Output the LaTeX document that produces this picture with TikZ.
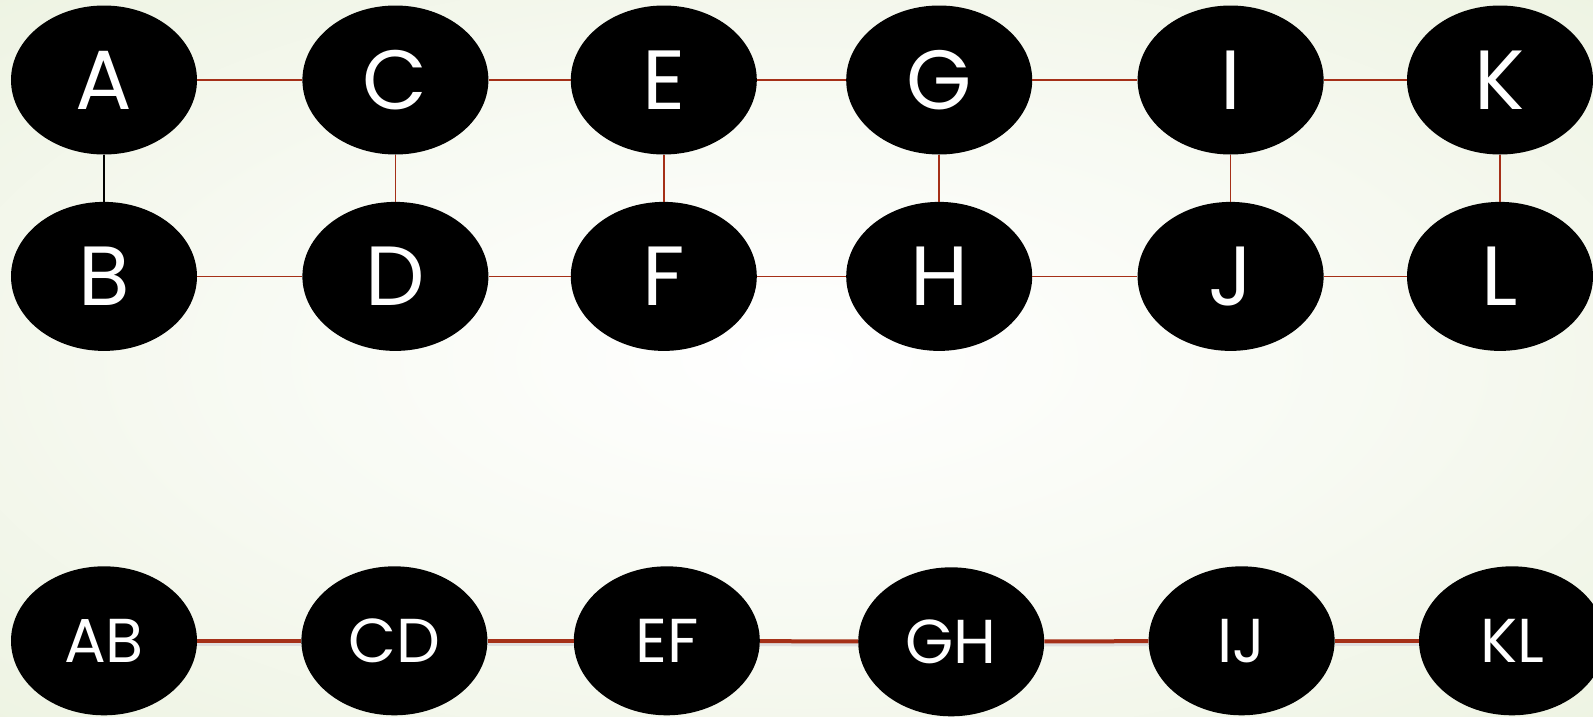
\documentclass[tikz,border=0pt]{standalone}
\usepackage{fontspec}
\setmainfont{Poppins}
\usepackage{tikz}
\usetikzlibrary{positioning,shapes.geometric}

\definecolor{edgered}{RGB}{165,48,24}
\definecolor{bggreen}{RGB}{230,238,214}
\pgfdeclareradialshading{bgglow}{\pgfpoint{0bp}{0bp}}{%
  color(0bp)=(white); color(18bp)=(white!70!bggreen);
  color(50bp)=(bggreen); color(70bp)=(bggreen)}

\begin{document}
\begin{tikzpicture}[
  x=1pt, y=1pt,
  vtx/.style={ellipse, fill=black, text=white, inner sep=0pt,
    minimum width=186pt, minimum height=149pt},
  bigvtx/.style={vtx, font=\fontsize{84}{90}\selectfont},
  pairvtx/.style={vtx, font=\fontsize{62}{70}\selectfont},
  link/.style={draw=edgered, line width=1.6pt},
  thicklink/.style={draw=edgered, line width=4pt,
    preaction={draw=black!12, line width=5pt, transform canvas={yshift=-2.5pt}}},
  node distance=47pt and 105pt
]
% background
\shade[shading=bgglow] (-104,80) rectangle (1489,-636);
\useasboundingbox (-104,80) rectangle (1489,-636);

% graph before merging
\node[bigvtx] (A) {A};
\node[bigvtx,below=of A] (B) {B};
\node[bigvtx,right=of A] (C) {C};
\node[bigvtx,below=of C] (D) {D};
\node[bigvtx,right=82pt of C] (E) {E};
\node[bigvtx,below=of E] (F) {F};
\node[bigvtx,right=89pt of E] (G) {G};
\node[bigvtx,below=of G] (H) {H};
\node[bigvtx,right=105pt of G] (I) {I};
\node[bigvtx,below=of I] (J) {J};
\node[bigvtx,right=83pt of I] (K) {K};
\node[bigvtx,below=of K] (L) {L};

\draw[line width=1.6pt] (A) -- (B);
\draw[link] (C) -- (D);
\draw[link] (E) -- (F);
\draw[link] (G) -- (H);
\draw[link] (I) -- (J);
\draw[link] (K) -- (L);
\draw[link] (A) -- (C) -- (E) -- (G) -- (I) -- (K);
\draw[link] (B) -- (D) -- (F) -- (H) -- (J) -- (L);

% merged pairs
\node[pairvtx,below=215pt of B] (AB) {AB};
\node[pairvtx,right=104pt of AB] (CD) {CD};
\node[pairvtx,right=86pt of CD] (EF) {EF};
\node[pairvtx,right=98pt of EF,yshift=-1pt] (GH) {GH};
\node[pairvtx,right=104pt of GH,yshift=1pt] (IJ) {IJ};
\node[pairvtx,right=84pt of IJ] (KL) {KL};

\draw[thicklink] (AB) -- (CD);
\draw[thicklink] (CD) -- (EF);
\draw[thicklink] (EF) -- (GH);
\draw[thicklink] (GH) -- (IJ);
\draw[thicklink] (IJ) -- (KL);
\end{tikzpicture}
\end{document}
